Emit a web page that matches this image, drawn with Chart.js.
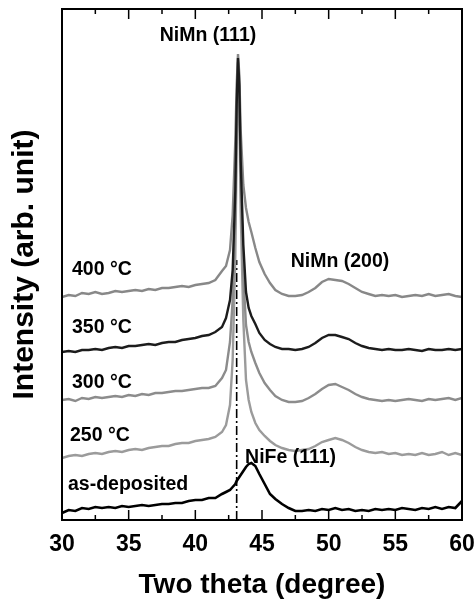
<!DOCTYPE html>
<html>
<head>
<meta charset="utf-8">
<script src="https://cdn.jsdelivr.net/npm/chart.js@4/dist/chart.umd.min.js"></script>
<style>
  html, body { margin: 0; padding: 0; background: #fff; }
  #wrap { width: 475px; height: 602px; }
</style>
</head>
<body>
<div id="wrap"><canvas id="xrd" width="475" height="602"></canvas></div>
<script>
// 2θ positions shared by all scans
const twoTheta = [
  30, 30.5, 31, 31.5, 32, 32.5, 33, 33.5, 34, 34.5, 35, 35.5, 36, 36.5, 37, 37.5, 38, 38.5, 39, 39.5,
  40, 40.5, 41, 41.5, 42,
  42.3, 42.6, 42.8, 43.0, 43.1, 43.2, 43.3, 43.4, 43.6, 43.8, 44.0, 44.2, 44.5, 44.8, 45.2, 45.6, 46.0, 46.5,
  47, 47.5, 48, 48.5, 49, 49.5, 50, 50.5, 51, 51.5, 52, 52.5, 53, 53.5, 54, 54.5, 55, 55.5, 56, 56.5,
  57, 57.5, 58, 58.5, 59, 59.5, 60
];

// intensities (arb. unit, curves already offset)
const int400 = [
  223, 225, 224, 227, 226, 228, 226, 227, 229, 228, 229, 230, 229, 231, 230, 232, 232, 233, 234, 233,
  235, 236, 237, 240, 249,
  254, 270, 305, 380, 435, 466, 445, 390, 335, 312, 298, 288, 272, 258, 246, 237, 230, 226,
  224, 224, 225, 228, 232, 238, 241, 240, 239, 236, 232, 228, 226, 224, 225, 224, 225, 223, 224, 225,
  224, 226, 224, 225, 226, 224, 223
];
const int350 = [
  168, 169, 168, 170, 170, 171, 170, 172, 173, 172, 174, 174, 175, 176, 175, 177, 178, 178, 180, 181,
  182, 184, 185, 188, 193,
  202, 220, 250, 330, 415, 462, 435, 360, 275, 228, 212, 204, 196, 187, 180, 176, 173, 171,
  171, 170, 171, 173, 177, 182, 185, 185, 183, 181, 177, 174, 172, 171, 170, 171, 170, 170, 171, 170,
  169, 171, 170, 170, 171, 170, 171
];
const int300 = [
  120, 121, 119, 122, 121, 123, 122, 123, 124, 123, 125, 124, 126, 125, 127, 127, 128, 129, 129, 130,
  131, 132, 132, 134, 142,
  150, 178, 220, 305, 395, 458, 425, 340, 245, 195, 178, 168, 157, 147, 137, 130, 124, 120,
  118, 118, 119, 122, 126, 131, 135, 136, 133, 130, 126, 123, 121, 120, 119, 120, 119, 120, 121, 120,
  119, 121, 120, 121, 122, 120, 122
];
const int250 = [
  62, 64, 65, 64, 66, 67, 66, 68, 69, 68, 70, 71, 70, 72, 73, 74, 74, 76, 77, 77,
  79, 80, 81, 83, 88,
  95, 115, 160, 265, 370, 448, 410, 310, 200, 140, 120, 108, 97, 90, 84, 79, 75, 72,
  70, 69, 70, 71, 74, 78, 80, 82, 80, 77, 73, 70, 68, 67, 68, 66, 67, 65, 66, 65,
  67, 65, 66, 68, 65, 67, 65
];
const intAsDep = [
  7, 10, 9, 12, 11, 13, 12, 13, 12, 14, 13, 14, 15, 14, 15, 16, 16, 17, 17, 19,
  20, 20, 22, 22, 26,
  28, 30, 33, 36, 39, 41, 43, 45, 49, 53, 56, 57, 54, 46, 36, 26, 21, 16,
  12, 9, 9, 10, 9, 11, 10, 12, 10, 11, 9, 10, 9, 11, 10, 11, 10, 12, 11, 10,
  12, 11, 13, 11, 13, 12, 19
];

// NiMn (111) reference position
const refLineX = 43.1;
const refLineY = [0, 260];

const majorTicks = [30, 35, 40, 45, 50, 55, 60];
const minorTicks = [32.5, 37.5, 42.5, 47.5, 52.5, 57.5];

// text labels in data coordinates
const notes = [
  { text: 'NiMn (111)', x: 40.95, y: 484, align: 'center' },
  { text: 'NiMn (200)', x: 50.85, y: 258, align: 'center' },
  { text: '400 °C', x: 30.75, y: 250, align: 'left' },
  { text: '350 °C', x: 30.75, y: 192, align: 'left' },
  { text: '300 °C', x: 30.75, y: 137, align: 'left' },
  { text: '250 °C', x: 30.6, y: 84, align: 'left' },
  { text: 'as-deposited', x: 30.45, y: 35, align: 'left' },
  { text: 'NiFe (111)', x: 43.73, y: 62, align: 'left' }
];

const FONT = "'Liberation Sans', Arial, sans-serif";

function toXY(ys) {
  return twoTheta.map((x, i) => ({ x: x, y: ys[i] }));
}

function line(label, ys, color, width) {
  return {
    label: label,
    data: toXY(ys),
    borderColor: color,
    borderWidth: width,
    pointRadius: 0,
    tension: 0,
    fill: false
  };
}

// frame, inward ticks and text
const framePlugin = {
  id: 'frame',
  afterDatasetsDraw(chart) {
    const ctx = chart.ctx;
    const a = chart.chartArea;
    const xs = chart.scales.x;
    const ys = chart.scales.y;
    ctx.save();
    ctx.strokeStyle = '#000';
    ctx.lineWidth = 2;
    ctx.strokeRect(a.left, a.top, a.right - a.left, a.bottom - a.top);

    ctx.lineWidth = 1.5;
    const drawTick = (v, len) => {
      const px = xs.getPixelForValue(v);
      ctx.beginPath();
      ctx.moveTo(px, a.bottom);
      ctx.lineTo(px, a.bottom - len);
      ctx.moveTo(px, a.top);
      ctx.lineTo(px, a.top + len);
      ctx.stroke();
    };
    majorTicks.forEach(v => drawTick(v, 10));
    minorTicks.forEach(v => drawTick(v, 5));

    ctx.fillStyle = '#000';
    ctx.font = 'bold 19.5px ' + FONT;
    ctx.textBaseline = 'middle';
    notes.forEach(n => {
      ctx.textAlign = n.align;
      ctx.fillText(n.text, xs.getPixelForValue(n.x), ys.getPixelForValue(n.y));
    });
    ctx.restore();
  }
};

new Chart(document.getElementById('xrd'), {
  type: 'line',
  data: {
    datasets: [
      line('350 °C', int350, '#1c1c1c', 2.4),
      line('as-deposited', intAsDep, '#000000', 2.6),
      line('400 °C', int400, '#888888', 2.4),
      line('300 °C', int300, '#8c8c8c', 2.4),
      line('250 °C', int250, '#9b9b9b', 2.4),
      {
        label: 'ref',
        data: [{ x: refLineX, y: refLineY[0] }, { x: refLineX, y: refLineY[1] }],
        borderColor: '#000',
        borderWidth: 1.6,
        borderDash: [9, 3, 2, 3],
        pointRadius: 0
      }
    ]
  },
  options: {
    responsive: false,
    animation: false,
    devicePixelRatio: 1,
    layout: { padding: { top: 9, right: 13, bottom: 0, left: 0 } },
    plugins: {
      legend: { display: false },
      tooltip: { enabled: false }
    },
    scales: {
      x: {
        type: 'linear',
        min: 30,
        max: 60,
        grid: { display: false, drawTicks: false },
        border: { display: false },
        ticks: {
          stepSize: 5,
          padding: 11,
          color: '#000',
          font: { family: FONT, size: 23, weight: 'bold' }
        },
        title: {
          display: true,
          text: 'Two theta (degree)',
          color: '#000',
          padding: { top: 3, bottom: 0 },
          font: { family: FONT, size: 28, weight: 'bold' }
        },
        afterFit(scale) {
          scale.height = 82;
          scale.paddingLeft = 0;
          scale.paddingRight = 0;
        }
      },
      y: {
        min: 0,
        max: 511,
        grid: { display: false, drawTicks: false },
        border: { display: false },
        ticks: { display: false },
        title: {
          display: true,
          text: 'Intensity (arb. unit)',
          color: '#000',
          padding: { top: 7, bottom: 0 },
          font: { family: FONT, size: 30, weight: 'bold' }
        },
        afterFit(scale) {
          scale.width = 62;
          scale.paddingTop = 0;
          scale.paddingBottom = 0;
        }
      }
    }
  },
  plugins: [framePlugin]
});
</script>
</body>
</html>
